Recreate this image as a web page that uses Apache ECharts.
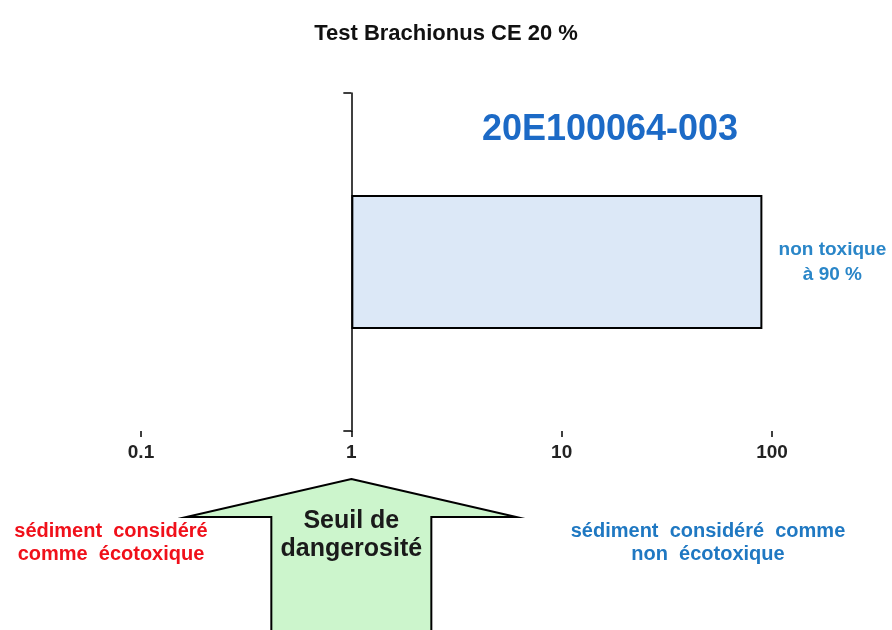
<!DOCTYPE html>
<html>
<head>
<meta charset="utf-8">
<script src="https://cdn.jsdelivr.net/npm/echarts@6/dist/echarts.min.js"></script>
<style>
  html, body { margin: 0; padding: 0; background: #fff; }
  #chart { width: 892px; height: 630px; }
</style>
</head>
<body>
<div id="chart"></div>
<script>
// Sample and result
const categories = ['20E100064-003'];
const nonToxicPercent = [90];

// Log axis range and threshold
const axisMin = 0.1;
const axisMax = 100;
const threshold = 1;

const FONT = 'Arial, "Liberation Sans", sans-serif';
const GRID = { left: 141, right: 120, top: 93, bottom: 199 };

const chart = echarts.init(document.getElementById('chart'), null, { renderer: 'canvas' });

const gridWidth = 892 - GRID.left - GRID.right;
// the vertical axis sits on the threshold value of the log axis
const yAxisOffset = -gridWidth * Math.log10(threshold / axisMin) / Math.log10(axisMax / axisMin);

const option = {
  animation: false,
  backgroundColor: '#ffffff',
  title: {
    text: 'Test Brachionus CE 20 %',
    left: 'center',
    top: 18,
    textStyle: { fontFamily: FONT, fontSize: 22, fontWeight: 'bold', color: '#111' }
  },
  grid: GRID,
  xAxis: {
    type: 'log',
    logBase: 10,
    min: axisMin,
    max: axisMax,
    splitLine: { show: false },
    minorTick: { show: false },
    axisLine: { lineStyle: { color: '#000', width: 1.5 } },
    axisTick: { show: true, length: 6, lineStyle: { color: '#000', width: 1.5 } },
    axisLabel: {
      margin: 12,
      fontFamily: FONT, fontSize: 19, fontWeight: 'bold', color: '#222',
      formatter: v => String(+v.toPrecision(6))
    }
  },
  yAxis: {
    type: 'category',
    data: categories,
    position: 'left',
    offset: yAxisOffset,
    axisLine: { show: true, lineStyle: { color: '#000', width: 1.5 } },
    axisTick: { show: true, length: 8, lineStyle: { color: '#000', width: 1.5 } },
    axisLabel: { show: false },
    splitLine: { show: false }
  },
  series: [{
    type: 'bar',
    data: nonToxicPercent,
    barWidth: '39.6%',
    itemStyle: {
      color: '#dce8f7',
      borderColor: '#000',
      borderWidth: 2
    },
    label: {
      show: true,
      position: 'right',
      distance: 70,
      align: 'center',
      formatter: p => 'non toxique\nà ' + p.value + ' %',
      fontFamily: FONT,
      fontSize: 19,
      fontWeight: 'bold',
      lineHeight: 25,
      color: '#2a86c8'
    },
    z: 1
  }]
};

chart.setOption(option);

// threshold arrow and side notes
const cx = chart.convertToPixel({ xAxisIndex: 0 }, threshold);
const tipY = 479, wingY = 517, wingHalf = 165, shaftHalf = 80, bottomY = 650;

chart.setOption({
  graphic: [
    {
      type: 'polygon',
      shape: {
        points: [
          [cx, tipY],
          [cx + wingHalf, wingY],
          [cx + shaftHalf, wingY],
          [cx + shaftHalf, bottomY],
          [cx - shaftHalf, bottomY],
          [cx - shaftHalf, wingY],
          [cx - wingHalf, wingY]
        ]
      },
      style: { fill: '#ccf5cc', stroke: '#000', lineWidth: 2 },
      z: 10
    },
    {
      type: 'text',
      x: cx,
      y: 535,
      style: {
        text: 'Seuil de\ndangerosité',
        fontFamily: FONT, fontSize: 25, fontWeight: 'bold',
        lineHeight: 28,
        fill: '#1a1a1a',
        align: 'center',
        verticalAlign: 'middle'
      },
      z: 11
    },
    {
      type: 'text',
      x: 610,
      y: 130,
      style: {
        text: categories[0],
        fontFamily: FONT, fontSize: 36, fontWeight: 'bold',
        fill: '#1c6ac6',
        align: 'center',
        verticalAlign: 'middle'
      }
    },
    {
      type: 'text',
      x: 111,
      y: 543,
      style: {
        text: 'sédiment  considéré\ncomme  écotoxique',
        fontFamily: FONT, fontSize: 20, fontWeight: 'bold',
        lineHeight: 23,
        fill: '#f0101a',
        align: 'center',
        verticalAlign: 'middle'
      }
    },
    {
      type: 'text',
      x: 708,
      y: 543,
      style: {
        text: 'sédiment  considéré  comme\nnon  écotoxique',
        fontFamily: FONT, fontSize: 20, fontWeight: 'bold',
        lineHeight: 23,
        fill: '#1f78c2',
        align: 'center',
        verticalAlign: 'middle'
      }
    }
  ]
});
</script>
</body>
</html>
